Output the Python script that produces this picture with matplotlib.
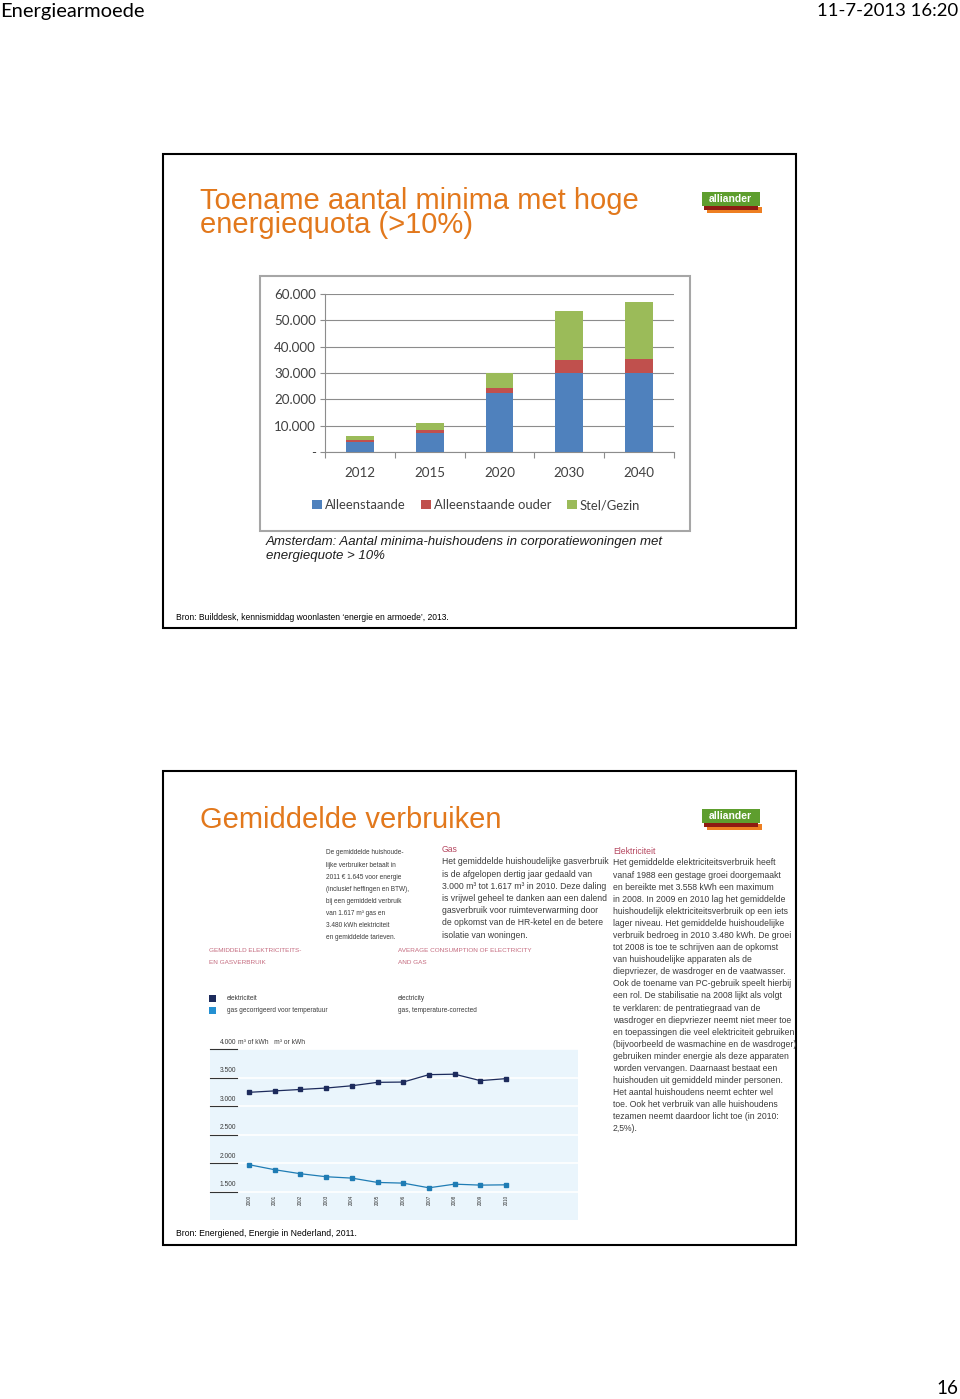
import matplotlib
matplotlib.use('Agg')
import matplotlib.pyplot as plt
import matplotlib.transforms as mtransforms
from matplotlib.patches import Rectangle
from matplotlib import font_manager
import numpy as np

W, H = 960, 1399

# ---------------- data ----------------
bar_categories = ['2012', '2015', '2020', '2030', '2040']
alleenstaande = [3700, 7300, 22300, 29900, 30100]
alleenstaande_ouder = [700, 1200, 1900, 5200, 5200]
stel_gezin = [1800, 2500, 5800, 18500, 21700]
bar_series_names = ['Alleenstaande', 'Alleenstaande ouder', 'Stel/Gezin']
bar_yticks = [0, 10000, 20000, 30000, 40000, 50000, 60000]
bar_yticklabels = ['-', '10.000', '20.000', '30.000', '40.000', '50.000', '60.000']

line_years = [2000, 2001, 2002, 2003, 2004, 2005, 2006, 2007, 2008, 2009, 2010]
elektriciteit = [3240, 3265, 3290, 3315, 3355, 3415, 3420, 3550, 3558, 3445, 3480]
gas = [1970, 1882, 1812, 1759, 1735, 1659, 1647, 1565, 1629, 1612, 1617]
line_yticks = [1500, 2000, 2500, 3000, 3500, 4000]
line_yticklabels = ['1.500', '2.000', '2.500', '3.000', '3.500', '4.000']

col1_lines = ['De gemiddelde huishoude-', 'lijke verbruiker betaalt in',
              '2011 \u20ac 1.645 voor energie', '(inclusief heffingen en BTW),',
              'bij een gemiddeld verbruik', 'van 1.617 m\u00b3 gas en',
              '3.480 kWh elektriciteit', 'en gemiddelde tarieven.']
gas_lines = ['Het gemiddelde huishoudelijke gasverbruik',
             'is de afgelopen dertig jaar gedaald van',
             '3.000 m\u00b3 tot 1.617 m\u00b3 in 2010. Deze daling',
             'is vrijwel geheel te danken aan een dalend',
             'gasverbruik voor ruimteverwarming door',
             'de opkomst van de HR-ketel en de betere',
             'isolatie van woningen.']
elek_lines = ['Het gemiddelde elektriciteitsverbruik heeft',
              'vanaf 1988 een gestage groei doorgemaakt',
              'en bereikte met 3.558 kWh een maximum',
              'in 2008. In 2009 en 2010 lag het gemiddelde',
              'huishoudelijk elektriciteitsverbruik op een iets',
              'lager niveau. Het gemiddelde huishoudelijke',
              'verbruik bedroeg in 2010 3.480 kWh. De groei',
              'tot 2008 is toe te schrijven aan de opkomst',
              'van huishoudelijke apparaten als de',
              'diepvriezer, de wasdroger en de vaatwasser.',
              'Ook de toename van PC-gebruik speelt hierbij',
              'een rol. De stabilisatie na 2008 lijkt als volgt',
              'te verklaren: de pentratiegraad van de',
              'wasdroger en diepvriezer neemt niet meer toe',
              'en toepassingen die veel elektriciteit gebruiken',
              '(bijvoorbeeld de wasmachine en de wasdroger)',
              'gebruiken minder energie als deze apparaten',
              'worden vervangen. Daarnaast bestaat een',
              'huishouden uit gemiddeld minder personen.',
              'Het aantal huishoudens neemt echter wel',
              'toe. Ook het verbruik van alle huishoudens',
              'tezamen neemt daardoor licht toe (in 2010:',
              '2,5%).']

# ---------------- fonts ----------------
available = {f.name for f in font_manager.fontManager.ttflist}
ARIAL = 'Liberation Sans' if 'Liberation Sans' in available else 'DejaVu Sans'
CALIBRI = 'Lato' if 'Lato' in available else ARIAL

fig = plt.figure(figsize=(W / 100, H / 100), dpi=100)
fig.patch.set_facecolor('white')


def F(x, y):
    return (x / W, 1 - y / H)


def txt(x, y, s, **kw):
    kw.setdefault('family', ARIAL)
    kw.setdefault('va', 'center')
    kw.setdefault('ha', 'left')
    fig.text(x / W, 1 - y / H, s, **kw)


def rect(x0, y0, x1, y1, **kw):
    fig.patches.append(Rectangle(F(x0, y1), (x1 - x0) / W, (y1 - y0) / H,
                                 transform=fig.transFigure, **kw))


# ---------------- page header / footer ----------------
txt(0, 11, 'Energiearmoede', fontsize=14.5, family=CALIBRI, color='black')
txt(958, 11, '11-7-2013 16:20', fontsize=13.3, family=CALIBRI, ha='right', color='black')
txt(958, 1389, '16', fontsize=13.5, family=CALIBRI, ha='right', color='black')

ORANGE = '#E2781C'

# ---------------- slide frames & logos ----------------
for dy in (0, 617):
    rect(163, 154 + dy, 796, 628 + dy, fill=False, ec='black', lw=1.5)
    rect(707, 207 + dy, 762, 213 + dy, fc='#EE7F22', ec='none')
    rect(704, 203 + dy, 758, 210 + dy, fc='#8E1B12', ec='none')
    rect(702, 192 + dy, 760, 206 + dy, fc='#5E9E2E', ec='none')
    txt(730, 199 + dy, 'alliander', fontsize=7.5, color='white', ha='center',
        weight='bold', family=ARIAL)

# ---------------- slide 1 ----------------
# multi-line title: 'baseline' anchors the last line
txt(200, 233, 'Toename aantal minima met hoge\nenergiequota (>10%)', fontsize=21,
    color=ORANGE, va='baseline', linespacing=0.8)

rect(260, 276, 690, 531, fill=False, ec='#A6A6A6', lw=1.5)

GRID = '#8C8C8C'
ax1 = fig.add_axes([325 / W, 1 - 452 / H, 349 / W, 158 / H])
x = np.arange(len(bar_categories))
bw = 0.4
s1 = np.array(alleenstaande)
s2 = np.array(alleenstaande_ouder)
s3 = np.array(stel_gezin)
b1 = ax1.bar(x, s1, bw, color='#4F81BD', label=bar_series_names[0], zorder=3)
b2 = ax1.bar(x, s2, bw, bottom=s1, color='#C0504D', label=bar_series_names[1], zorder=3)
b3 = ax1.bar(x, s3, bw, bottom=s1 + s2, color='#9BBB59', label=bar_series_names[2], zorder=3)
ax1.set_xlim(-0.5, len(bar_categories) - 0.5)
ax1.set_ylim(0, 60000)
ax1.set_yticks(bar_yticks, bar_yticklabels)
ax1.set_xticks(x, bar_categories)
ax1.set_xticks(np.arange(-0.5, len(bar_categories), 1), minor=True)
ax1.tick_params(axis='x', which='major', length=0, pad=11, labelsize=9.6, labelcolor='#404040')
ax1.tick_params(axis='x', which='minor', length=4, color=GRID, width=0.8)
ax1.tick_params(axis='y', length=3.5, color=GRID, width=0.8, pad=3, labelsize=9.6,
                labelcolor='#404040')
for lab in ax1.get_xticklabels() + ax1.get_yticklabels():
    lab.set_family(CALIBRI)
ax1.grid(axis='y', color=GRID, lw=0.8, zorder=0)
for sp in ('top', 'right'):
    ax1.spines[sp].set_visible(False)
ax1.spines['left'].set_color(GRID)
ax1.spines['bottom'].set_color(GRID)
ax1.spines['left'].set_linewidth(0.8)
ax1.spines['bottom'].set_linewidth(0.8)
ax1.set_facecolor('none')

fig.legend(handles=[b1, b2, b3], loc='center', bbox_to_anchor=F(476, 505), ncol=3,
           frameon=False, handlelength=0.75, handleheight=0.75, handletextpad=0.2,
           columnspacing=1.2, prop={'family': CALIBRI, 'size': 9.4}, labelcolor='#404040')

txt(266, 542, 'Amsterdam: Aantal minima-huishoudens in corporatiewoningen met',
    fontsize=9.5, style='italic', color='#1E1E1E')
txt(266, 556, 'energiequote > 10%', fontsize=9.5, style='italic', color='#1E1E1E')

txt(176, 617, 'Bron: Builddesk, kennismiddag woonlasten \u2018energie en armoede\u2019, 2013.',
    fontsize=6.15, color='black')

# ---------------- slide 2 ----------------
txt(200, 828, 'Gemiddelde verbruiken', fontsize=21, color=ORANGE, va='baseline')

BODY = '#3C3C3C'
HEAD = '#B5465F'
CAPS = '#C46A7E'

for i, s in enumerate(col1_lines):
    txt(326, 853 + i * 12.1, s, fontsize=4.7, color=BODY)

txt(442, 850, 'Gas', fontsize=6.2, color=HEAD)
for i, s in enumerate(gas_lines):
    txt(442, 862 + i * 12.17, s, fontsize=6.2, color=BODY)

txt(613, 851, 'Elektriciteit', fontsize=6.2, color=HEAD)
for i, s in enumerate(elek_lines):
    txt(613, 863 + i * 12.09, s, fontsize=6.2, color=BODY)

txt(209, 950, 'GEMIDDELD ELEKTRICITEITS-', fontsize=4.6, color=CAPS)
txt(209, 962, 'EN GASVERBRUIK', fontsize=4.6, color=CAPS)
txt(398, 950, 'AVERAGE CONSUMPTION OF ELECTRICITY', fontsize=4.6, color=CAPS)
txt(398, 962, 'AND GAS', fontsize=4.6, color=CAPS)

ELEC_C = '#1D2B5C'
GAS_C = '#1F7CB4'
rect(209, 995, 216, 1002, fc=ELEC_C, ec='none')
rect(209, 1007, 216, 1014, fc='#2490D2', ec='none')
txt(227, 998.5, 'elektriciteit', fontsize=4.7, color=BODY)
txt(227, 1010.5, 'gas gecorrigeerd voor temperatuur', fontsize=4.7, color=BODY)
txt(398, 998.5, 'electricity', fontsize=4.7, color=BODY)
txt(398, 1010.5, 'gas, temperature-corrected', fontsize=4.7, color=BODY)

ax2 = fig.add_axes([210 / W, 1 - 1220 / H, 368 / W, 171 / H], facecolor='#EAF5FC')
ax2.set_xlim(2000 - 39 / 25.7, 2000 + 329 / 25.7)
ax2.set_ylim(1000, 4000)
for sp in ax2.spines.values():
    sp.set_visible(False)
ax2.set_xticks([])
ax2.set_yticks(line_yticks)
ax2.tick_params(axis='y', length=0, labelleft=False)
ax2.grid(axis='y', color='white', lw=1.2, zorder=0)
blend = mtransforms.blended_transform_factory(ax2.transAxes, ax2.transData)
for v, lab in zip(line_yticks, line_yticklabels):
    ax2.plot([0, 0.074], [v, v], transform=blend, color='#333333', lw=0.8,
             clip_on=False, zorder=4)
    ax2.text(0.072, v + 60, lab, transform=blend, ha='right', va='bottom',
             fontsize=4.8, color=BODY, family=ARIAL, clip_on=False)
txt(238, 1042.5, 'm\u00b3 of kWh   m\u00b3 or kWh', fontsize=4.8, color=BODY)

ax2.plot(line_years, elektriciteit, '-s', color=ELEC_C, ms=2.8, lw=0.9, zorder=5)
ax2.plot(line_years, gas, '-s', color=GAS_C, ms=2.8, lw=0.9, zorder=5)
for yr in line_years:
    ax2.text(yr, 1350, str(yr), rotation=90, fontsize=3.3, ha='center', va='center',
             color='#333333', family=ARIAL)

txt(176, 1233, 'Bron: Energiened, Energie in Nederland, 2011.', fontsize=6.2, color='black')

fig.savefig('out.png', dpi=100, facecolor='white')
